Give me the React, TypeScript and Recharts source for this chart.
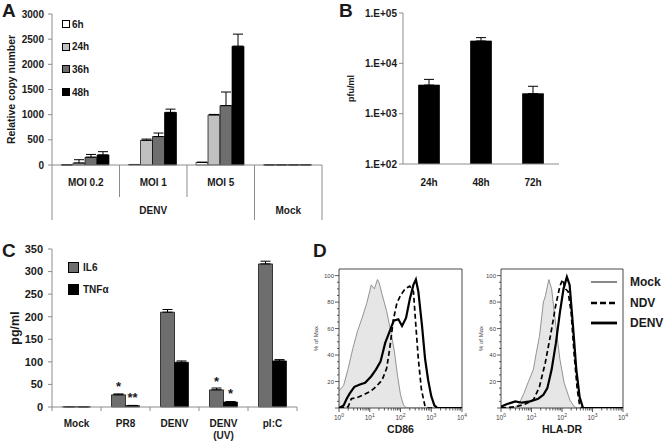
import React from "react";
import {
  BarChart,
  Bar,
  XAxis,
  YAxis,
  ErrorBar,
  Legend,
  LabelList,
  ComposedChart,
  Area,
  Line,
  ReferenceArea,
} from "recharts";

const FONT = "'Liberation Sans', Arial, Helvetica, sans-serif";
const INK = "#1a1a1a";
const AXIS = "#8c8c8c";

// ---- A: viral RNA (relative copy number)
const aCategories = ["MOI 0.2", "MOI 1", "MOI 5", "Mock"];
const aSubLabels = ["MOI 0.2", "MOI 1", "MOI 5", ""];
const aGroups = ["DENV", "DENV", "DENV", "Mock"];
const aTimes = ["6h", "24h", "36h", "48h"];
const aColors = ["#ffffff", "#c0c0c0", "#6e6e6e", "#000000"];
const a6h = [4, 10, 53, 3];
const a24h = [40, 490, 995, 3];
const a36h = [155, 565, 1180, 3];
const a48h = [200, 1045, 2360, 4];
const a6hErr = [0, 0, 0, 0];
const a24hErr = [65, 25, 10, 0];
const a36hErr = [55, 70, 270, 0];
const a48hErr = [65, 65, 240, 0];
const aTicks = [0, 500, 1000, 1500, 2000, 2500, 3000];

// ---- B: titre (pfu/ml)
const bCategories = ["24h", "48h", "72h"];
const bTiter = [3700, 27800, 2500];
const bTiterErr = [1100, 4600, 1000];
const bTicks = [100, 1000, 10000, 100000];

// ---- C: cytokines (pg/ml)
const cLabels = [["Mock"], ["PR8"], ["DENV"], ["DENV", "(UV)"], ["pI:C"]];
const cIL6 = [0.5, 27, 210, 38, 317];
const cIL6Err = [0, 2, 6, 4, 6];
const cTNF = [0.3, 3, 99, 11, 102];
const cTNFErr = [0, 0.5, 3, 1, 3];
const cIL6Sig = ["", "*", "", "*", ""];
const cTNFSig = ["", "**", "", "*", ""];
const cTicks = [0, 50, 100, 150, 200, 250, 300, 350];

// ---- D: flow histograms, [log10 intensity, % of max]
const cd86Mock = [
  [0, 13], [0.15, 17], [0.3, 30], [0.45, 45], [0.6, 58], [0.75, 68], [0.9, 79],
  [1.05, 93], [1.15, 90], [1.25, 97], [1.3, 95], [1.4, 86], [1.55, 73], [1.7, 56],
  [1.8, 43], [1.9, 25], [2.0, 10], [2.1, 2], [2.2, 0], [4, 0],
];
const cd86Ndv = [
  [0, 0], [0.3, 1], [0.4, 7], [0.6, 8], [0.8, 10], [1.05, 13], [1.2, 16], [1.4, 21],
  [1.55, 30], [1.65, 45], [1.77, 67], [1.88, 79], [2.0, 85], [2.15, 90], [2.3, 92],
  [2.42, 88], [2.5, 62], [2.58, 37], [2.68, 14], [2.8, 1], [2.9, 0], [4, 0],
];
const cd86Denv = [
  [0, 0], [0.15, 2], [0.25, 7], [0.35, 11], [0.5, 16], [0.7, 18], [0.85, 19],
  [1.05, 24], [1.2, 29], [1.35, 35], [1.5, 49], [1.65, 58], [1.78, 66], [1.93, 67],
  [2.05, 62], [2.18, 68], [2.3, 82], [2.42, 93], [2.5, 97], [2.58, 88], [2.7, 62],
  [2.8, 37], [2.9, 21], [3.0, 9], [3.1, 2], [3.2, 0], [4, 0],
];
const hlaMock = [
  [0, 0], [0.4, 0], [0.57, 2], [0.75, 11], [0.9, 20], [1.06, 29], [1.16, 42],
  [1.26, 54], [1.39, 80], [1.46, 85], [1.52, 92], [1.57, 97], [1.66, 90], [1.8, 62],
  [1.93, 37], [2.07, 19], [2.26, 6], [2.4, 1], [2.5, 0], [4, 0],
];
const hlaNdv = [
  [0, 0], [0.5, 1], [0.8, 3], [1.06, 6], [1.26, 16], [1.45, 34], [1.64, 57],
  [1.79, 77], [1.93, 92], [2.02, 97], [2.11, 90], [2.2, 88], [2.3, 72], [2.4, 40],
  [2.5, 14], [2.58, 2], [2.65, 0], [4, 0],
];
const hlaDenv = [
  [0, 1], [0.2, 3], [0.47, 5], [0.69, 4], [0.95, 5], [1.22, 7], [1.39, 10],
  [1.52, 15], [1.66, 29], [1.8, 49], [1.93, 72], [2.05, 90], [2.16, 99], [2.25, 93],
  [2.36, 62], [2.47, 29], [2.58, 8], [2.69, 0], [4, 0],
];

const dxTicks: number[] = [];
for (let n = 0; n < 4; n++) {
  dxTicks.push(n);
  for (let k = 2; k < 10; k++) dxTicks.push(n + Math.log10(k));
}
dxTicks.push(4);
const dyTicks = Array.from({ length: 21 }, (_, i) => i * 5);

const aRows = aCategories.map((name, i) => ({
  name,
  "6h": a6h[i],
  "24h": a24h[i],
  "36h": a36h[i],
  "48h": a48h[i],
  "6h_err": [0, a6hErr[i]],
  "24h_err": [0, a24hErr[i]],
  "36h_err": [0, a36hErr[i]],
  "48h_err": [0, a48hErr[i]],
}));

const bRows = bCategories.map((name, i) => ({
  name,
  titer: bTiter[i],
  err: [0, bTiterErr[i]],
}));

const cRows = cLabels.map((lines, i) => ({
  name: lines.join(" "),
  il6: cIL6[i],
  tnf: cTNF[i],
  il6Err: [0, cIL6Err[i]],
  tnfErr: [0, cTNFErr[i]],
  il6Sig: cIL6Sig[i],
  tnfSig: cTNFSig[i],
}));

const toPts = (arr: number[][]) => arr.map(([x, y]) => ({ x, y }));

const A_BAND = 270 / aCategories.length;
const C_BAND = 245 / cLabels.length;

function ATick(props: any) {
  const { x, y, index } = props;
  const half = A_BAND / 2;
  const g = aGroups[index];
  const groupStart = index === 0 || aGroups[index - 1] !== g;
  const last = index === aCategories.length - 1;
  let groupLabel = null;
  if (groupStart) {
    const count = aGroups.filter((v) => v === g).length;
    const cx = x - half + (count * A_BAND) / 2;
    groupLabel = (
      <text x={cx} y={y + 49} textAnchor="middle" fontSize={10} fontWeight={700} fill={INK} fontFamily={FONT}>
        {g}
      </text>
    );
  }
  return (
    <g>
      <line x1={x - half} x2={x - half} y1={y} y2={y + (groupStart ? 55 : 32)} stroke={AXIS} strokeWidth={1} />
      {last && <line x1={x + half} x2={x + half} y1={y} y2={y + 55} stroke={AXIS} strokeWidth={1} />}
      <text x={x} y={y + 21} textAnchor="middle" fontSize={10} fontWeight={700} fill={INK} fontFamily={FONT}>
        {aSubLabels[index]}
      </text>
      {groupLabel}
    </g>
  );
}

function BTick(props: any) {
  const { x, y, payload } = props;
  return (
    <text x={x} y={y + 22} textAnchor="middle" fontSize={10} fontWeight={700} fill={INK} fontFamily={FONT}>
      {payload.value}
    </text>
  );
}

function CTick(props: any) {
  const { x, y, index } = props;
  const half = C_BAND / 2;
  const last = index === cLabels.length - 1;
  return (
    <g>
      <line x1={x - half} x2={x - half} y1={y} y2={y + 4} stroke={AXIS} />
      {last && <line x1={x + half} x2={x + half} y1={y} y2={y + 4} stroke={AXIS} />}
      {cLabels[index].map((t, k) => (
        <text key={t} x={x} y={y + 20 + k * 12} textAnchor="middle" fontSize={10} fontWeight={700} fill={INK} fontFamily={FONT}>
          {t}
        </text>
      ))}
    </g>
  );
}

function LogTick(props: any) {
  const { x, y, payload } = props;
  const v = payload.value;
  const major = Math.abs(v - Math.round(v)) < 1e-6;
  return (
    <g>
      <line x1={x} x2={x} y1={y} y2={y + (major ? 4 : 2.5)} stroke="#333" strokeWidth={0.8} />
      {major && (
        <text x={x} y={y + 12} textAnchor="middle" fontSize={6.5} fill="#444" fontFamily={FONT}>
          10<tspan dy={-3} fontSize={5}>{Math.round(v)}</tspan>
        </text>
      )}
    </g>
  );
}

function PctTick(props: any) {
  const { x, y, payload } = props;
  const v = payload.value;
  const major = v % 20 === 0;
  return (
    <g>
      <line x1={x} x2={x - (major ? 4 : 2)} y1={y} y2={y} stroke="#333" strokeWidth={0.8} />
      {major && v > 0 && (
        <text x={x - 5} y={y + 2} textAnchor="end" fontSize={6} fill="#444" fontFamily={FONT}>
          {v}
        </text>
      )}
    </g>
  );
}

function ALegend() {
  return (
    <div style={{ fontFamily: FONT }}>
      {aTimes.map((t, i) => (
        <div key={t} style={{ display: "flex", alignItems: "center", height: 22.6 }}>
          <span style={{ width: 6, height: 6, border: "1px solid #000", background: aColors[i], marginRight: 2 }} />
          <span style={{ fontSize: 10, fontWeight: 700, color: INK }}>{t}</span>
        </div>
      ))}
    </div>
  );
}

function CLegend() {
  const items = [
    { name: "IL6", color: "#6e6e6e" },
    { name: "TNF\u03b1", color: "#000000" },
  ];
  return (
    <div style={{ fontFamily: FONT }}>
      {items.map((it) => (
        <div key={it.name} style={{ display: "flex", alignItems: "center", height: 22 }}>
          <span style={{ width: 9, height: 9, border: "1px solid #000", background: it.color, marginRight: 4 }} />
          <span style={{ fontSize: 10, fontWeight: 700, color: INK }}>{it.name}</span>
        </div>
      ))}
    </div>
  );
}

function DLegend() {
  const items = [
    { name: "Mock", stroke: "#6a6a6a", width: 1.6, dash: undefined },
    { name: "NDV", stroke: "#000", width: 2.6, dash: "6 3" },
    { name: "DENV", stroke: "#000", width: 2.8, dash: undefined },
  ];
  return (
    <div style={{ fontFamily: FONT }}>
      {items.map((it) => (
        <div key={it.name} style={{ display: "flex", alignItems: "center", height: 20.5 }}>
          <svg width={26} height={6} style={{ marginRight: 13 }}>
            <line x1={0} x2={26} y1={3} y2={3} stroke={it.stroke} strokeWidth={it.width} strokeDasharray={it.dash} />
          </svg>
          <span style={{ fontSize: 12, fontWeight: 700, color: INK }}>{it.name}</span>
        </div>
      ))}
    </div>
  );
}

function PanelA() {
  return (
    <BarChart width={330} height={220} data={aRows} margin={{ top: 14, right: 8, left: 8, bottom: 0 }} barCategoryGap={9} barGap={0}>
      <XAxis dataKey="name" height={55} interval={0} axisLine={{ stroke: AXIS }} tickLine={false} tickSize={0} tickMargin={0} tick={(p: any) => <ATick {...p} />} />
      <YAxis
        width={44}
        domain={[0, 3000]}
        ticks={aTicks}
        interval={0}
        axisLine={{ stroke: AXIS }}
        tickLine={{ stroke: AXIS }}
        tickSize={4}
        tickMargin={4}
        tick={{ fontSize: 10, fontWeight: 700, fill: INK, fontFamily: FONT }}
        label={{ value: "Relative copy number", angle: -90, position: "insideLeft", offset: 3, fontSize: 10.5, fontWeight: 700, fill: INK, fontFamily: FONT, style: { textAnchor: "middle" } }}
      />
      <Legend layout="vertical" align="center" verticalAlign="middle" wrapperStyle={{ left: 62, top: 13, width: "auto" }} content={() => <ALegend />} />
      {aTimes.map((t, i) => (
        <Bar key={t} dataKey={t} fill={aColors[i]} stroke="#000" strokeWidth={0.7} isAnimationActive={false}>
          <ErrorBar dataKey={`${t}_err`} width={5} stroke="#000" strokeWidth={1} direction="y" />
        </Bar>
      ))}
    </BarChart>
  );
}

function PanelB() {
  return (
    <BarChart width={240} height={220} data={bRows} margin={{ top: 13, right: 11, left: 13, bottom: 0 }} barCategoryGap={15.5}>
      <XAxis dataKey="name" height={56} interval={0} axisLine={{ stroke: AXIS }} tickLine={false} tickSize={0} tickMargin={0} tick={(p: any) => <BTick {...p} />} />
      <YAxis
        width={60}
        scale="log"
        type="number"
        domain={[100, 100000]}
        ticks={bTicks}
        interval={0}
        allowDataOverflow
        axisLine={{ stroke: AXIS }}
        tickLine={{ stroke: AXIS }}
        tickSize={4}
        tickMargin={2}
        tickFormatter={(v: number) => `1.E+${String(Math.round(Math.log10(v))).padStart(2, "0")}`}
        tick={{ fontSize: 10, fontWeight: 700, fill: INK, fontFamily: FONT }}
        label={{ value: "pfu/ml", angle: -90, position: "insideLeft", offset: 8, fontSize: 9, fontWeight: 700, fill: INK, fontFamily: FONT, style: { textAnchor: "middle" } }}
      />
      <Bar dataKey="titer" fill="#000" stroke="#000" strokeWidth={0.7} isAnimationActive={false}>
        <ErrorBar dataKey="err" width={5} stroke="#000" strokeWidth={1} direction="y" />
      </Bar>
    </BarChart>
  );
}

function PanelC() {
  return (
    <BarChart width={330} height={222} data={cRows} margin={{ top: 29, right: 33, left: 8, bottom: 0 }} barCategoryGap={10.5} barGap={0}>
      <XAxis dataKey="name" height={35} interval={0} axisLine={{ stroke: AXIS }} tickLine={false} tickSize={0} tickMargin={0} tick={(p: any) => <CTick {...p} />} />
      <YAxis
        width={44}
        domain={[0, 350]}
        ticks={cTicks}
        interval={0}
        axisLine={{ stroke: AXIS }}
        tickLine={{ stroke: AXIS }}
        tickSize={4}
        tickMargin={5}
        tick={{ fontSize: 11, fontWeight: 700, fill: INK, fontFamily: FONT }}
        label={{ value: "pg/ml", angle: -90, position: "insideLeft", offset: 7, fontSize: 12.5, fontWeight: 700, fill: INK, fontFamily: FONT, style: { textAnchor: "middle" } }}
      />
      <Legend layout="vertical" align="center" verticalAlign="middle" wrapperStyle={{ left: 68, top: 36, width: "auto" }} content={() => <CLegend />} />
      <Bar dataKey="il6" fill="#6e6e6e" stroke="#000" strokeWidth={0.7} isAnimationActive={false}>
        <ErrorBar dataKey="il6Err" width={5} stroke="#000" strokeWidth={1} direction="y" />
        <LabelList dataKey="il6Sig" position="top" offset={4} fontSize={13} fontWeight={700} fill={INK} fontFamily={FONT} />
      </Bar>
      <Bar dataKey="tnf" fill="#000" stroke="#000" strokeWidth={0.7} isAnimationActive={false}>
        <ErrorBar dataKey="tnfErr" width={5} stroke="#000" strokeWidth={1} direction="y" />
        <LabelList dataKey="tnfSig" position="top" offset={4} fontSize={13} fontWeight={700} fill={INK} fontFamily={FONT} />
      </Bar>
    </BarChart>
  );
}

function Histogram({ mock, ndv, denv, title, width, marginRight, yLabelOffset, showLegend }: any) {
  return (
    <ComposedChart width={width} height={202} margin={{ top: 29, right: marginRight, left: 9, bottom: 0 }}>
      <XAxis
        type="number"
        dataKey="x"
        domain={[0, 4]}
        ticks={dxTicks}
        interval={0}
        allowDataOverflow
        height={34}
        axisLine={false}
        tickLine={false}
        tickSize={0}
        tickMargin={0}
        tick={(p: any) => <LogTick {...p} />}
        label={{ value: title, position: "insideBottom", offset: 9, fontSize: 10.5, fontWeight: 700, fill: INK, fontFamily: FONT }}
      />
      <YAxis
        type="number"
        domain={[0, 105]}
        ticks={dyTicks}
        interval={0}
        allowDataOverflow
        width={30}
        axisLine={false}
        tickLine={false}
        tickSize={0}
        tickMargin={0}
        tick={(p: any) => <PctTick {...p} />}
        label={{ value: "% of Max", angle: -90, position: "insideLeft", offset: yLabelOffset, fontSize: 6, fill: "#444", fontFamily: FONT, style: { textAnchor: "middle" } }}
      />
      <Area data={toPts(mock)} dataKey="y" type="linear" fill="#e6e6e6" fillOpacity={1} stroke="#7a7a7a" strokeWidth={0.8} isAnimationActive={false} dot={false} activeDot={false} />
      <Line data={toPts(ndv)} dataKey="y" type="linear" stroke="#000" strokeWidth={1.7} strokeDasharray="5 3" isAnimationActive={false} dot={false} activeDot={false} />
      <Line data={toPts(denv)} dataKey="y" type="linear" stroke="#000" strokeWidth={2.2} isAnimationActive={false} dot={false} activeDot={false} />
      <ReferenceArea x1={0} x2={4} y1={0} y2={105} fill="none" fillOpacity={0} stroke="#333" strokeWidth={0.9} ifOverflow="visible" />
      {showLegend && (
        <Legend layout="vertical" align="center" verticalAlign="middle" wrapperStyle={{ left: 129, top: 32, width: "auto" }} content={() => <DLegend />} />
      )}
    </ComposedChart>
  );
}

function Letter({ x, y, children }: any) {
  return (
    <div style={{ position: "absolute", left: x, top: y, fontSize: 19, fontWeight: 700, lineHeight: 1, color: INK, fontFamily: FONT }}>
      {children}
    </div>
  );
}

export default function App() {
  return (
    <div style={{ position: "absolute", left: 0, top: 0, width: 664, height: 442, background: "#fff", overflow: "hidden", fontFamily: FONT }}>
      <div style={{ position: "absolute", left: 0, top: 0 }}>
        <PanelA />
      </div>
      <div style={{ position: "absolute", left: 330, top: 0 }}>
        <PanelB />
      </div>
      <div style={{ position: "absolute", left: 0, top: 220 }}>
        <PanelC />
      </div>
      <div style={{ position: "absolute", left: 300, top: 240 }}>
        <Histogram mock={cd86Mock} ndv={cd86Ndv} denv={cd86Denv} title="CD86" width={170} marginRight={8} yLabelOffset={7} />
      </div>
      <div style={{ position: "absolute", left: 462, top: 240 }}>
        <Histogram mock={hlaMock} ndv={hlaNdv} denv={hlaDenv} title="HLA-DR" width={202} marginRight={41} yLabelOffset={10} showLegend />
      </div>
      <Letter x={2} y={1}>A</Letter>
      <Letter x={339} y={1}>B</Letter>
      <Letter x={2} y={241}>C</Letter>
      <Letter x={313} y={241}>D</Letter>
    </div>
  );
}
